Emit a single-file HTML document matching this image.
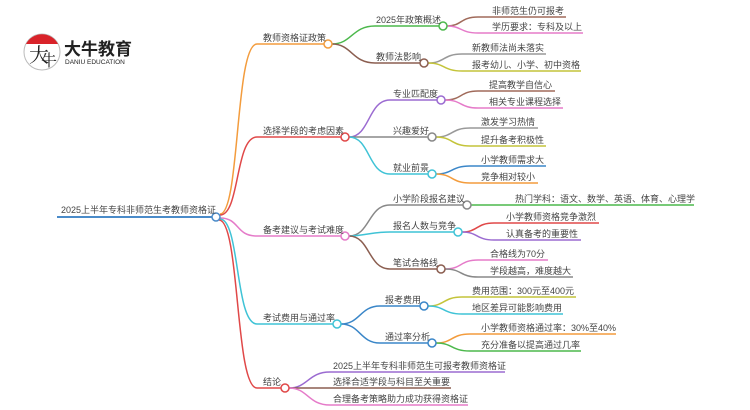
<!DOCTYPE html>
<html><head><meta charset="utf-8"><style>
html,body{margin:0;padding:0;background:#fff;}
svg{display:block;}
text{font-family:"Liberation Sans","Noto Sans CJK SC",sans-serif;font-size:9px;fill:#444;}
</style></head><body>
<svg width="750" height="410" viewBox="0 0 750 410" xmlns="http://www.w3.org/2000/svg">
<g fill="none" stroke-width="1.5">
<circle cx="42" cy="52" r="18" stroke="#bbb" stroke-width="1"/>
<path d="M26,44 A18,18 0 0 1 58,44 Z" fill="#d9232a" stroke="none"/>
<path d="M57,217 H212" stroke="#4a8bc9" stroke-width="2"/>
<path d="M220,214 C240,214 235,44 257,44 H324" stroke="#f39c3d"/>
<path d="M220,215 C240,215 235,137 257,137 H341" stroke="#e04848"/>
<path d="M220,218 C240,218 235,236 257,236 H341" stroke="#e57bc9"/>
<path d="M220,219 C240,219 235,324 257,324 H333" stroke="#3fc3d6"/>
<path d="M219,220 C240,220 235,388 257,388 H281" stroke="#e04848"/>
<path d="M332,44 C352,44 352,26 375,26 H439" stroke="#4cb84c"/>
<path d="M332,44 C352,44 352,63 375,63 H420" stroke="#8b5e50"/>
<path d="M349,137 C370,137 368,100 390,100 H437" stroke="#9b6bd1"/>
<path d="M349,137 H428" stroke="#888"/>
<path d="M349,137 C370,137 368,174 390,174 H428" stroke="#3fc3d6"/>
<path d="M349,236 C370,236 368,205 390,205 H463" stroke="#888"/>
<path d="M349,236 C365,236 370,232 390,232 H454" stroke="#3fc3d6"/>
<path d="M349,236 C370,236 368,269 390,269 H437" stroke="#8b5e50"/>
<path d="M341,324 C360,324 360,306 380,306 H420" stroke="#3a86c8"/>
<path d="M341,324 C360,324 360,343 380,343 H428" stroke="#3a86c8"/>
<path d="M289,388 C308,388 308,372 330,372 H505" stroke="#9b6bd1"/>
<path d="M289,388 H451" stroke="#8b5e50"/>
<path d="M289,388 C308,388 308,405 330,405 H468" stroke="#e57bc9"/>
<path d="M447,26 C462,26 460,17 478,17 H566" stroke="#a06a5a"/>
<path d="M447,26 C462,26 460,33 478,33 H583" stroke="#e57bc9"/>
<path d="M428,63 C445,63 443,54 462,54 H546" stroke="#999"/>
<path d="M428,63 C445,63 443,71 462,71 H581" stroke="#c4c43a"/>
<path d="M445,100 C462,100 460,91 478,91 H555" stroke="#a06a5a"/>
<path d="M445,100 C462,100 460,108 478,108 H563" stroke="#e57bc9"/>
<path d="M436,137 C453,137 451,128 470,128 H538" stroke="#999"/>
<path d="M436,137 C453,137 451,146 470,146 H546" stroke="#c4c43a"/>
<path d="M436,174 C453,174 451,166 470,166 H546" stroke="#3a86c8"/>
<path d="M436,174 C453,174 451,183 470,183 H538" stroke="#f39c3d"/>
<path d="M471,205 H694" stroke="#4cb84c"/>
<path d="M462,232 C478,232 476,223 494,223 H599" stroke="#e04848"/>
<path d="M462,232 C478,232 476,240 494,240 H581" stroke="#9b6bd1"/>
<path d="M445,269 C462,269 460,260 478,260 H548" stroke="#e57bc9"/>
<path d="M445,269 C462,269 460,277 478,277 H573" stroke="#888"/>
<path d="M428,306 C445,306 443,297 462,297 H576" stroke="#c4c43a"/>
<path d="M428,306 C445,306 443,314 462,314 H563" stroke="#3fc3d6"/>
<path d="M436,343 C453,343 451,334 470,334 H616" stroke="#f39c3d"/>
<path d="M436,343 C453,343 451,351 470,351 H581" stroke="#4cb84c"/>
<g fill="#fff">
<circle cx="216" cy="217" r="4" stroke="#4a8bc9"/>
<circle cx="328" cy="44" r="4" stroke="#f39c3d"/>
<circle cx="345" cy="137" r="4" stroke="#e04848"/>
<circle cx="345" cy="236" r="4" stroke="#e57bc9"/>
<circle cx="337" cy="324" r="4" stroke="#3fc3d6"/>
<circle cx="285" cy="388" r="4" stroke="#e04848"/>
<circle cx="443" cy="26" r="4" stroke="#4cb84c"/>
<circle cx="424" cy="63" r="4" stroke="#8b5e50"/>
<circle cx="441" cy="100" r="4" stroke="#9b6bd1"/>
<circle cx="432" cy="137" r="4" stroke="#888"/>
<circle cx="432" cy="174" r="4" stroke="#3fc3d6"/>
<circle cx="467" cy="205" r="4" stroke="#888"/>
<circle cx="458" cy="232" r="4" stroke="#3fc3d6"/>
<circle cx="441" cy="269" r="4" stroke="#8b5e50"/>
<circle cx="424" cy="306" r="4" stroke="#3a86c8"/>
<circle cx="432" cy="343" r="4" stroke="#3a86c8"/>
</g>
</g>
<text x="29" y="62" style="font-size:20px;fill:#222;font-family:'Noto Serif CJK SC',serif">大</text>
<text x="41" y="66" style="font-size:16px;fill:#222;font-family:'Noto Serif CJK SC',serif">牛</text>
<text x="64" y="55" style="font-size:17px;font-weight:bold;fill:#222">大牛教育</text>
<text x="65" y="64" style="font-size:6.5px;fill:#222">DANIU EDUCATION</text>
<text x="61" y="213">2025上半年专科非师范生考教师资格证</text>
<text x="263" y="41">教师资格证政策</text>
<text x="263" y="134">选择学段的考虑因素</text>
<text x="263" y="233">备考建议与考试难度</text>
<text x="263" y="321">考试费用与通过率</text>
<text x="263" y="385">结论</text>
<text x="376" y="23">2025年政策概述</text>
<text x="376" y="60">教师法影响</text>
<text x="393" y="97">专业匹配度</text>
<text x="393" y="134">兴趣爱好</text>
<text x="393" y="171">就业前景</text>
<text x="393" y="202">小学阶段报名建议</text>
<text x="393" y="229">报名人数与竞争</text>
<text x="393" y="266">笔试合格线</text>
<text x="385" y="303">报考费用</text>
<text x="385" y="340">通过率分析</text>
<text x="333" y="369">2025上半年专科非师范生可报考教师资格证</text>
<text x="333" y="385">选择合适学段与科目至关重要</text>
<text x="333" y="402">合理备考策略助力成功获得资格证</text>
<text x="492" y="14">非师范生仍可报考</text>
<text x="492" y="30">学历要求：专科及以上</text>
<text x="472" y="51">新教师法尚未落实</text>
<text x="472" y="68">报考幼儿、小学、初中资格</text>
<text x="489" y="88">提高教学自信心</text>
<text x="489" y="105">相关专业课程选择</text>
<text x="481" y="125">激发学习热情</text>
<text x="481" y="143">提升备考积极性</text>
<text x="481" y="163">小学教师需求大</text>
<text x="481" y="180">竞争相对较小</text>
<text x="515" y="202">热门学科：语文、数学、英语、体育、心理学</text>
<text x="506" y="220">小学教师资格竞争激烈</text>
<text x="506" y="237">认真备考的重要性</text>
<text x="490" y="257">合格线为70分</text>
<text x="490" y="274">学段越高，难度越大</text>
<text x="472" y="294">费用范围：300元至400元</text>
<text x="472" y="311">地区差异可能影响费用</text>
<text x="481" y="331">小学教师资格通过率：30%至40%</text>
<text x="481" y="348">充分准备以提高通过几率</text>
</svg>
</body></html>
